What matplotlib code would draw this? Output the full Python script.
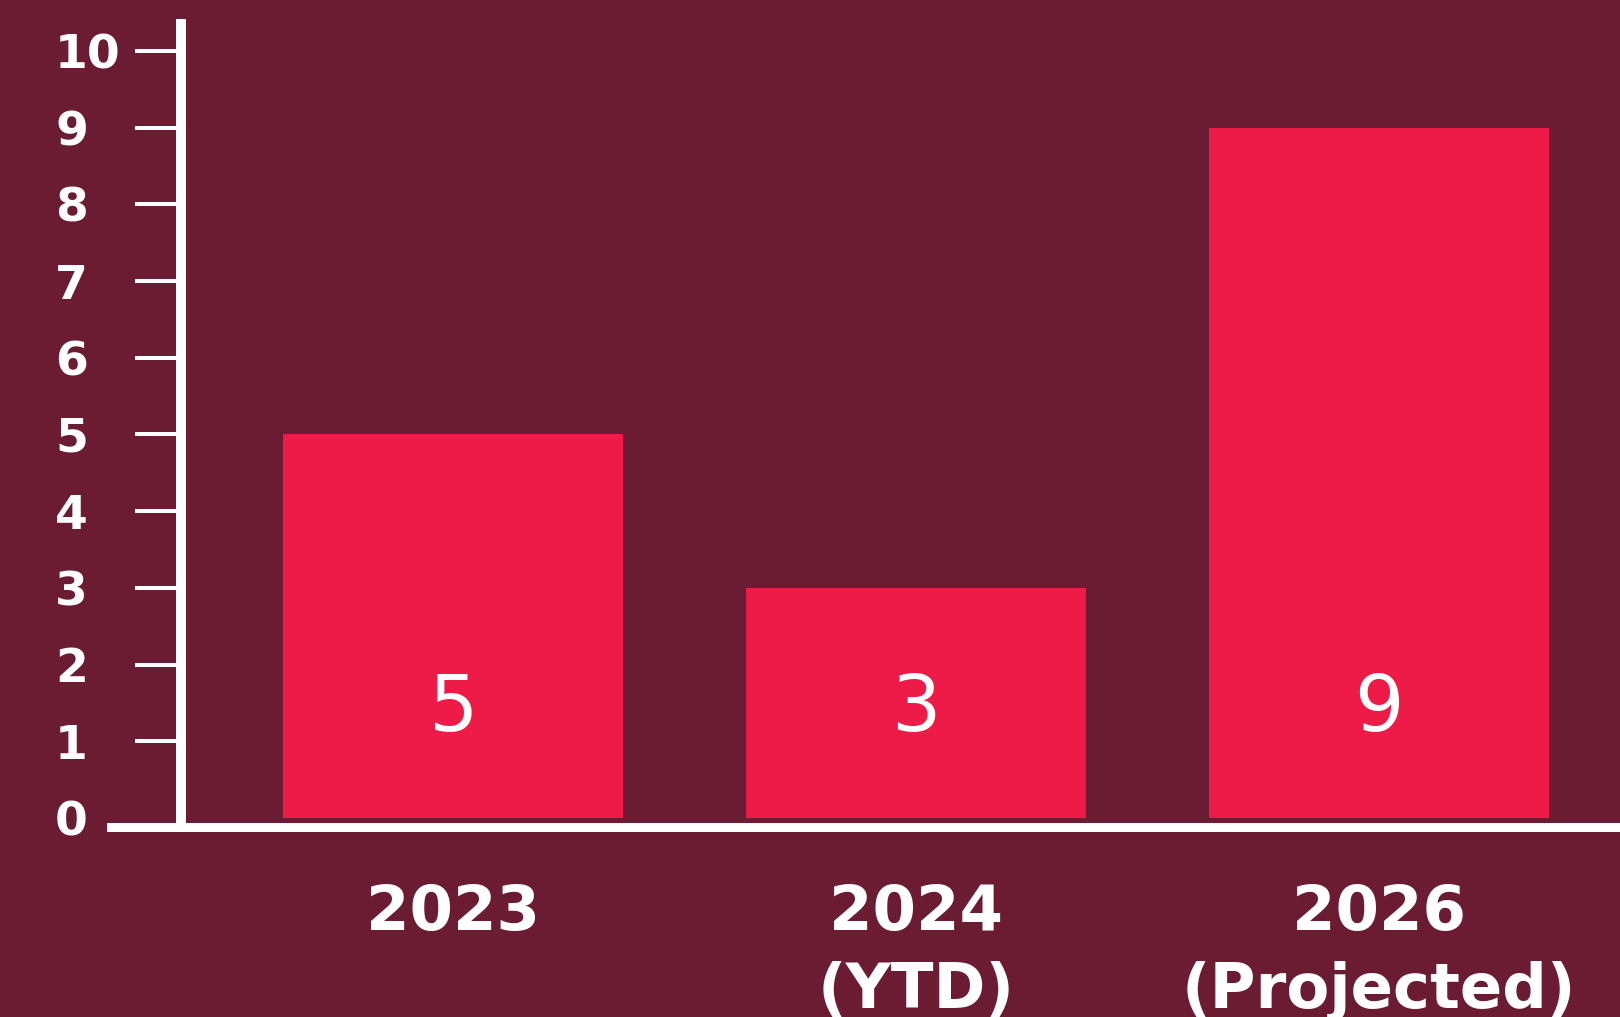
import matplotlib.pyplot as plt
import numpy as np

categories = ["2023", "2024\n(YTD)", "2026\n(Projected)"]
values = [5, 3, 9]
yticks = np.arange(0, 11, 1)

BG = "#6B1B32"
BAR = "#EE1A48"
FONT = "DejaVu Sans"

fig = plt.figure(figsize=(16.2, 10.17), dpi=100, facecolor=BG)
ax = fig.add_axes([111 / 1620, 190 / 1017, 1509 / 1620, 803 / 1017])
ax.set_facecolor(BG)

x = np.arange(len(categories))
ax.bar(x, values, width=0.735, color=BAR, zorder=2)

# numbers inside the bars
for xi, v in zip(x, values):
    ax.text(xi, 1.42, str(v), ha="center", va="center", color="white",
            fontsize=56, family=FONT, zorder=3)

ax.set_xlim(-0.740, 2.521)
ax.set_ylim(-0.117, 10.35)

# spines
for s in ["top", "right"]:
    ax.spines[s].set_visible(False)
ax.spines["left"].set_position(("axes", 70 / 1509))
ax.spines["left"].set_color("white")
ax.spines["left"].set_linewidth(7.2)
ax.spines["bottom"].set_color("white")
ax.spines["bottom"].set_linewidth(6.5)

# ticks
ax.set_yticks(yticks)
ax.set_yticklabels([str(t) for t in yticks])
ax.tick_params(axis="y", direction="out", length=33, width=2.9, color="white",
               labelcolor="white", labelsize=34, pad=57.6)
plt.setp(ax.get_yticklabels(), ha="left", fontweight="bold", family=FONT)
# the zero tick sits in the baseline
ax.yaxis.get_major_ticks()[0].tick1line.set_visible(False)

ax.set_xticks(x)
ax.set_xticklabels(categories)
ax.tick_params(axis="x", length=0, labelcolor="white", labelsize=45, pad=40)
plt.setp(ax.get_xticklabels(), fontweight="bold", family=FONT, linespacing=1.4)

fig.savefig("out.png", dpi=100, facecolor=BG)
